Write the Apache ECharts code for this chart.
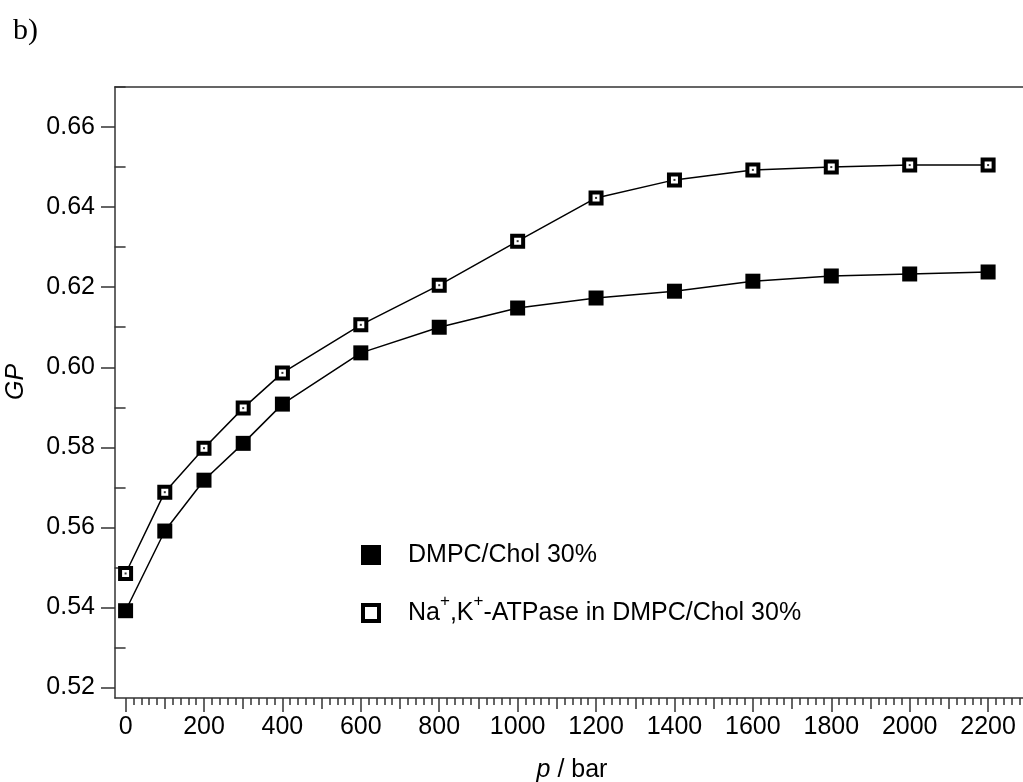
<!DOCTYPE html>
<html>
<head>
<meta charset="utf-8">
<script src="https://cdn.jsdelivr.net/npm/echarts@6/dist/echarts.min.js"></script>
<style>
  html, body { margin: 0; padding: 0; background: #fff; }
  #chart { width: 1023px; height: 782px; }
</style>
</head>
<body>
<div id="chart"></div>
<script>
// Generalized polarization (GP) of the membrane probe versus hydrostatic pressure
const pressure = [0, 100, 200, 300, 400, 600, 800, 1000, 1200, 1400, 1600, 1800, 2000, 2200];
const gpDmpc   = [0.5392, 0.5591, 0.5718, 0.5810, 0.5908, 0.6036, 0.6100, 0.6148, 0.6173, 0.6190, 0.6215, 0.6228, 0.6233, 0.6238];
const gpAtpase = [0.5485, 0.5688, 0.5798, 0.5898, 0.5986, 0.6106, 0.6205, 0.6315, 0.6423, 0.6468, 0.6493, 0.6500, 0.6505, 0.6505];

const nameDmpc = 'DMPC/Chol 30%';
const nameAtpase = 'Na+,K+-ATPase in DMPC/Chol 30%';

// Axis ticks
const xLabelTicks = [0, 200, 400, 600, 800, 1000, 1200, 1400, 1600, 1800, 2000, 2200];
const xMidTicks = [100, 300, 500, 700, 900, 1100, 1300, 1500, 1700, 1900, 2100];
const yLabelTicks = [0.52, 0.54, 0.56, 0.58, 0.60, 0.62, 0.64, 0.66];
const yMinorTicks = [0.53, 0.55, 0.57, 0.59, 0.61, 0.63, 0.65, 0.67];
const xMinorTicks = [];
for (let p = 20; p <= 2280; p += 20) xMinorTicks.push(p);

const X_MIN = -27, X_MAX = 2289;
const Y_MIN = 0.5174, Y_MAX = 0.67;
const FONT = "'Liberation Sans', Arial, Helvetica, sans-serif";
const AXIS_COLOR = '#333';

const pairs = (ys) => pressure.map((p, i) => [p, ys[i]]);

function tickAxis(pos, ticks, len) {
  return {
    type: 'value', position: pos,
    min: pos === 'left' ? Y_MIN : X_MIN,
    max: pos === 'left' ? Y_MAX : X_MAX,
    axisLine: { show: false },
    axisTick: { show: true, inside: false, length: len, customValues: ticks,
                lineStyle: { color: AXIS_COLOR, width: 1.5 } },
    axisLabel: { show: false },
    splitLine: { show: false }
  };
}

const chart = echarts.init(document.getElementById('chart'), null, { renderer: 'canvas' });

chart.setOption({
  animation: false,
  backgroundColor: '#fff',
  grid: { left: 115, right: 0, top: 87, bottom: 84, containLabel: false },
  xAxis: [
    {
      type: 'value', position: 'bottom', min: X_MIN, max: X_MAX,
      axisLine: { show: true, onZero: false, lineStyle: { color: AXIS_COLOR, width: 1.5 } },
      axisTick: { show: true, inside: false, length: 14, customValues: xLabelTicks,
                  lineStyle: { color: AXIS_COLOR, width: 1.5 } },
      axisLabel: { show: true, customValues: xLabelTicks, margin: 17, color: '#000',
                   fontSize: 25, fontFamily: FONT, formatter: (v) => String(v) },
      splitLine: { show: false }
    },
    tickAxis('bottom', xMidTicks, 11),
    tickAxis('bottom', xMinorTicks, 7),
    {
      type: 'value', position: 'top', min: X_MIN, max: X_MAX,
      axisLine: { show: true, onZero: false, lineStyle: { color: AXIS_COLOR, width: 1.5 } },
      axisTick: { show: false }, axisLabel: { show: false }, splitLine: { show: false }
    }
  ],
  yAxis: [
    {
      type: 'value', position: 'left', min: Y_MIN, max: Y_MAX,
      axisLine: { show: true, onZero: false, lineStyle: { color: AXIS_COLOR, width: 1.5 } },
      axisTick: { show: true, inside: false, length: 14, customValues: yLabelTicks,
                  lineStyle: { color: AXIS_COLOR, width: 1.5 } },
      axisLabel: { show: true, customValues: yLabelTicks, margin: 20, color: '#000',
                   fontSize: 25, fontFamily: FONT,
                   formatter: (v) => v.toFixed(2) },
      splitLine: { show: false }
    },
    tickAxis('left', yMinorTicks, 11)
  ],
  legend: {
    orient: 'vertical',
    left: 361, top: 542.5,
    padding: 0,
    itemWidth: 16, itemHeight: 16, itemGap: 25,
    selectedMode: false,
    textStyle: {
      color: '#000', fontSize: 25, fontFamily: FONT, padding: [0, 0, 8, 24],
      rich: {
        t: { fontSize: 25, fontFamily: FONT, color: '#000', lineHeight: 33, verticalAlign: 'bottom' },
        sup: { fontSize: 17, fontFamily: FONT, color: '#000', lineHeight: 20, verticalAlign: 'top' }
      }
    },
    formatter: (name) => name === nameAtpase
      ? '{t|Na}{sup|+}{t|,K}{sup|+}{t|-ATPase in DMPC/Chol 30%}'
      : '{t|' + name + '}',
    data: [
      { name: nameDmpc, icon: 'rect',
        itemStyle: { color: '#000', borderColor: '#000', borderWidth: 4 } },
      { name: nameAtpase, icon: 'rect',
        itemStyle: { color: '#fff', borderColor: '#000', borderWidth: 4 } }
    ]
  },
  series: [
    {
      name: nameDmpc, type: 'line',
      data: pairs(gpDmpc),
      symbol: 'rect', symbolSize: 15,
      itemStyle: { color: '#000' },
      lineStyle: { color: '#000', width: 1.5 },
      z: 3
    },
    {
      name: nameAtpase, type: 'line',
      data: pairs(gpAtpase),
      symbol: 'rect', symbolSize: 11,
      itemStyle: { color: '#fff', borderColor: '#000', borderWidth: 4 },
      lineStyle: { color: '#000', width: 1.5 },
      z: 3
    },
    {
      // small centre dot inside the open squares
      name: 'atpase-centre', type: 'scatter',
      data: pairs(gpAtpase),
      symbol: 'rect', symbolSize: 2, silent: true,
      itemStyle: { color: '#000' },
      z: 4
    }
  ],
  graphic: [
    {
      type: 'text', x: 13, y: 31,
      style: { text: 'b)', font: "30px 'Liberation Serif', 'Times New Roman', serif",
               fill: '#000', textAlign: 'left', textVerticalAlign: 'middle' }
    },
    {
      type: 'text', x: 16, y: 382, rotation: Math.PI / 2,
      style: { text: 'GP', font: "italic 25px 'Liberation Sans', Arial, sans-serif",
               fill: '#000', textAlign: 'center', textVerticalAlign: 'middle' }
    },
    {
      type: 'text', x: 572, y: 770,
      style: {
        text: '{i|p} / bar',
        textAlign: 'center', textVerticalAlign: 'middle',
        rich: {
          i: { font: "italic 25px 'Liberation Sans', Arial, sans-serif", fill: '#000' }
        },
        font: "25px 'Liberation Sans', Arial, sans-serif",
        fill: '#000'
      }
    }
  ]
});
</script>
</body>
</html>
